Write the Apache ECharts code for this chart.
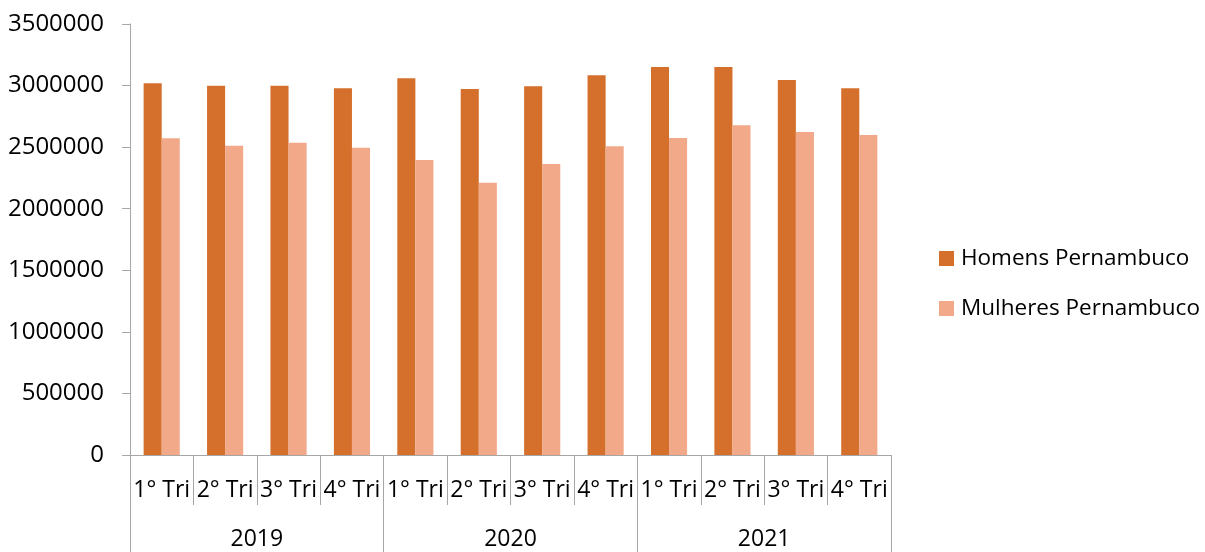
<!DOCTYPE html>
<html>
<head>
<meta charset="utf-8">
<script src="https://cdn.jsdelivr.net/npm/echarts@6/dist/echarts.min.js"></script>
<style>
html,body{margin:0;padding:0;background:#fff;}
#chart{width:1205px;height:552px;}
</style>
</head>
<body>
<div id="chart"></div>
<script>
const quarters = ['1° Tri','2° Tri','3° Tri','4° Tri','1° Tri','2° Tri','3° Tri','4° Tri','1° Tri','2° Tri','3° Tri','4° Tri'];
const years = ['2019','2020','2021'];
const homens = [3018000, 2999000, 2999000, 2978000, 3059000, 2972000, 2994000, 3083000, 3151000, 3151000, 3045000, 2978000];
const mulheres = [2572000, 2512000, 2536000, 2496000, 2396000, 2211000, 2363000, 2507000, 2574000, 2677000, 2623000, 2599000];
const seriesNames = ['Homens Pernambuco', 'Mulheres Pernambuco'];

const FONT = 'Open Sans';
const chart = echarts.init(document.getElementById('chart'), null, {renderer:'canvas'});
chart.setOption({
  animation:false,
  textStyle:{fontFamily:FONT},
  grid:{left:130, right:314, top:24, bottom:97, containLabel:false},
  legend:{
    orient:'vertical', left:934, top:242,
    itemWidth:15, itemHeight:15, itemGap:27,
    icon:'rect',
    textStyle:{fontSize:22.5, color:'#000', fontFamily:FONT, padding:[0,0,0,2]},
    data:seriesNames
  },
  xAxis:[
    {
      type:'category', data:quarters, position:'bottom',
      axisLine:{show:true, lineStyle:{color:'#a6a6a6', width:1}},
      axisTick:{show:true, interval:0, length:50, lineStyle:{color:'#a6a6a6'}},
      axisLabel:{interval:0, margin:24, fontSize:23, color:'#000', fontFamily:FONT}
    },
    {
      type:'category', data:years, position:'bottom',
      axisLine:{show:false},
      axisTick:{show:true, interval:0, length:98, lineStyle:{color:'#a6a6a6'}},
      axisLabel:{interval:0, margin:73, fontSize:23, color:'#000', fontFamily:FONT}
    }
  ],
  yAxis:{
    type:'value', min:0, max:3500000, interval:500000,
    axisLine:{show:true, lineStyle:{color:'#a6a6a6'}},
    axisTick:{show:true, length:8, lineStyle:{color:'#a6a6a6'}},
    splitLine:{show:false},
    axisLabel:{margin:26, fontSize:24, color:'#000', fontFamily:FONT, formatter:function(v){return String(v);}}
  },
  series:[
    {name:seriesNames[0], type:'bar', xAxisIndex:0, data:homens, barGap:'0%', barCategoryGap:'43%',
     itemStyle:{color:'#D46F2C'}},
    {name:seriesNames[1], type:'bar', xAxisIndex:0, data:mulheres, barGap:'0%', barCategoryGap:'43%',
     itemStyle:{color:'#F2A98A'}}
  ]
});
</script>
</body>
</html>
